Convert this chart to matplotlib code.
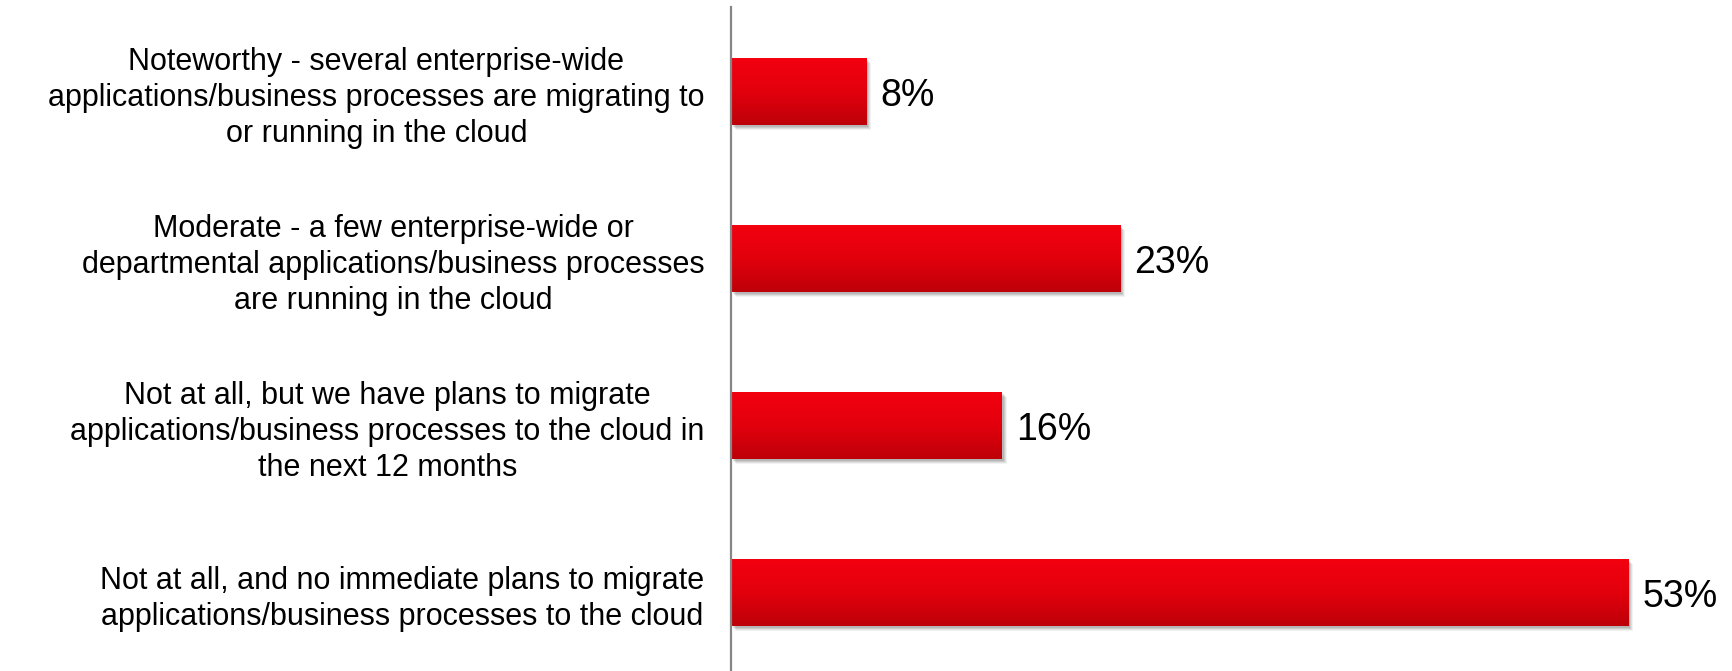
import matplotlib
matplotlib.use("Agg")
import matplotlib.pyplot as plt
import numpy as np
from matplotlib import transforms
from matplotlib.colors import LinearSegmentedColormap

categories = [
    "Noteworthy - several enterprise-wide\napplications/business processes are migrating to\nor running in the cloud",
    "Moderate - a few enterprise-wide or\ndepartmental applications/business processes\nare running in the cloud",
    "Not at all, but we have plans to migrate\napplications/business processes to the cloud in\nthe next 12 months",
    "Not at all, and no immediate plans to migrate\napplications/business processes to the cloud",
]
values = [8, 23, 16, 53]
value_labels = ["8%", "23%", "16%", "53%"]

plt.rcParams['font.family'] = ['Liberation Sans', 'DejaVu Sans']

W, H = 1733, 671
fig = plt.figure(figsize=(W / 100, H / 100), dpi=100)
left_px = 731
ax = fig.add_axes([left_px / W, 0, 1 - left_px / W, 664 / H])

ypos = np.arange(len(values))
bars = ax.barh(ypos, values, height=0.40, color='none', edgecolor='none', zorder=3)

ax.set_xlim(0, (W - left_px) / 16.93)
ax.set_ylim(3.47, -0.506)

cmap = LinearSegmentedColormap.from_list('redgrad', ['#F3000F', '#E2000D', '#BD0008'])
grad = np.linspace(0, 1, 256).reshape(-1, 1)

for b in bars:
    x0, y0 = b.get_x(), b.get_y()
    w, h = b.get_width(), b.get_height()
    # soft shadow
    for dx, dy, a in [(5, -5, 0.05), (4, -4, 0.07), (3, -3, 0.09), (2, -2, 0.1)]:
        tr = transforms.offset_copy(ax.transData, fig=fig, x=dx, y=dy, units='dots')
        ax.add_patch(plt.Rectangle((x0, y0), w, h, transform=tr, facecolor='black',
                                   edgecolor='none', alpha=a, zorder=1))
    ax.imshow(grad, cmap=cmap, aspect='auto', extent=(x0, x0 + w, y0 + h, y0),
              zorder=2, interpolation='bilinear')

ax.set_xlim(0, (W - left_px) / 16.93)
ax.set_ylim(3.47, -0.506)

for b, lab in zip(bars, value_labels):
    ax.annotate(lab, xy=(b.get_width(), b.get_y() + b.get_height() / 2),
                xytext=(10, -3), textcoords='offset points', ha='left', va='center',
                fontsize=27, color='black')

ax.set_yticks(ypos)
ax.set_yticklabels(categories, fontsize=22, linespacing=1.27)
shift = transforms.ScaledTranslation(0, 6 / 100, fig.dpi_scale_trans)
for t in ax.get_yticklabels():
    t.set_multialignment('center')
    t.set_transform(t.get_transform() + shift)
ax.tick_params(axis='y', length=0, pad=19)
ax.set_xticks([])
for s in ['top', 'right', 'bottom']:
    ax.spines[s].set_visible(False)
ax.spines['left'].set_color('#868686')
ax.spines['left'].set_linewidth(1.6)
ax.spines['left'].set_zorder(4)

fig.savefig('out.png', dpi=100)
